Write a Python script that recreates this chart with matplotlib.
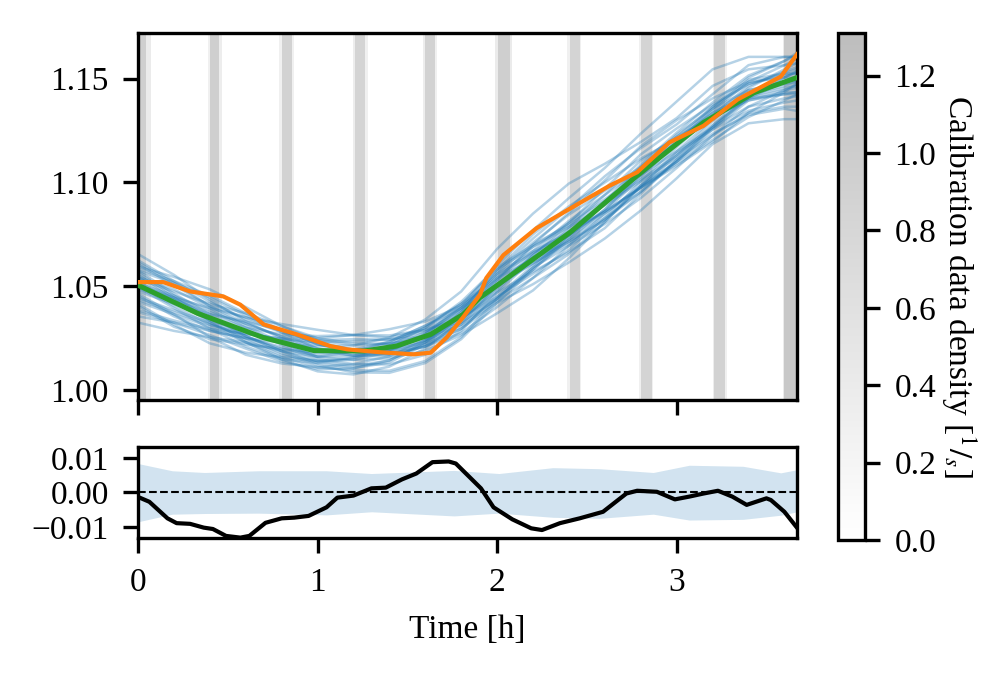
import numpy as np
import matplotlib
matplotlib.use("Agg")
import matplotlib.pyplot as plt
from matplotlib.colors import LinearSegmentedColormap, Normalize

plt.rcParams["font.family"] = ["Liberation Serif", "DejaVu Serif"]
plt.rcParams["mathtext.fontset"] = "stix"
plt.rcParams["font.size"] = 8
plt.rcParams["axes.linewidth"] = 0.8

# calibration data density (1/s) on time bins [h]
cal_edges = [0, 0.005, 0.045, 0.075, 0.39, 0.40, 0.45, 0.465, 0.785, 0.80,
             0.855, 0.87, 1.195, 1.21, 1.265, 1.28, 1.59, 1.60, 1.655, 1.665,
             1.99, 2.005, 2.07, 2.085, 2.39, 2.405, 2.46, 2.47, 2.79, 2.80,
             2.86, 2.87, 3.20, 3.21, 3.27, 3.28, 3.59, 3.60, 3.67]
cal_density = [0.5, 0.95, 0.4, 0, 0.3, 0.95, 0.35, 0, 0.3, 0.9,
               0.3, 0, 0.35, 0.85, 0.3, 0, 0.35, 0.9, 0.3, 0,
               0.4, 0.95, 0.4, 0, 0.3, 0.85, 0.3, 0, 0.3, 0.85,
               0.3, 0, 0.35, 0.9, 0.3, 0, 0.4, 1.1]

# ensemble members: mean curve + per-member offsets (x1e-3)
t_knots = [0, 0.2, 0.4, 0.6, 0.8, 1.0, 1.2, 1.4, 1.6, 1.8, 2.0, 2.2, 2.4,
           2.6, 2.8, 3.0, 3.2, 3.4, 3.6, 3.67]
mean_knots = [1.0505, 1.0425, 1.0345, 1.028, 1.0228, 1.019, 1.0185, 1.0203,
              1.026, 1.0355, 1.050, 1.063, 1.0755, 1.089, 1.1035, 1.117,
              1.1305, 1.1425, 1.1485, 1.1505]
member_offsets = [
    [12, 10, 8, 6, 5, 6, 8, 9, 7, 5, 3, 4, 6, 5, 3, 2, 4, 6, 8, 9],
    [-8, -6, -4, -5, -7, -8, -6, -4, -5, -8, -10, -9, -6, -4, -5, -7, -8, -6, -4, -3],
    [3, 5, 7, 9, 8, 6, 4, 2, 0, -2, -1, 2, 5, 8, 10, 9, 7, 5, 3, 2],
    [-15, -10, -6, -3, -2, -4, -6, -8, -9, -7, -3, 0, 2, 1, -2, -4, -3, 0, 2, 3],
    [6, 3, 0, -2, -4, -6, -8, -7, -4, 0, 4, 6, 5, 3, 0, -2, -4, -6, -8, -9],
    [0, -2, -3, -1, 2, 4, 5, 4, 2, 1, 3, 7, 10, 12, 14, 13, 10, 6, 2, 0],
    [-4, -6, -9, -11, -10, -8, -9, -11, -12, -10, -6, -4, -6, -9, -11, -10, -8, -9, -12, -14],
    [9, 12, 14, 12, 8, 5, 3, 5, 8, 12, 18, 22, 24, 20, 16, 14, 16, 12, 8, 7],
    [-10, -12, -10, -6, -3, -1, 0, -2, -4, -6, -8, -12, -14, -16, -17, -15, -12, -14, -18, -20],
    [2, 0, -1, 0, 1, 0, -2, -3, -2, 0, 2, 1, -1, -2, 0, 2, 3, 2, 0, -1],
    [-2, 1, 3, 4, 3, 1, -1, -3, -5, -6, -5, -3, -1, 1, 3, 5, 6, 5, 4, 4],
    [15, 13, 9, 5, 2, 0, 1, 3, 5, 6, 8, 6, 3, 0, -3, -5, -4, -2, 0, 1],
    [-6, -4, -2, -3, -5, -7, -10, -12, -13, -11, -8, -5, -3, -4, -6, -8, -10, -11, -9, -8],
    [4, 6, 5, 3, 0, -3, -4, -2, 1, 4, 6, 8, 9, 7, 4, 2, 0, -1, -3, -4],
    [-12, -9, -5, -1, 2, 3, 1, -1, 0, 3, 6, 4, 0, -3, -6, -7, -5, -3, -5, -7],
    [7, 4, 2, 2, 4, 7, 8, 6, 3, -1, -5, -7, -8, -6, -3, 0, 2, 4, 5, 5],
    [-1, -3, -5, -7, -8, -6, -3, 0, 2, 3, 1, -2, -4, -6, -8, -7, -4, -1, 2, 3],
    [10, 8, 6, 7, 9, 10, 8, 5, 3, 4, 7, 10, 12, 14, 13, 11, 12, 14, 12, 10],
    [-9, -11, -12, -10, -7, -5, -4, -5, -7, -9, -13, -15, -12, -8, -5, -3, -5, -8, -10, -11],
    [1, 3, 4, 2, -1, -3, -2, 1, 4, 7, 9, 7, 4, 2, 1, 3, 6, 8, 10, 12],
    [-5, -7, -6, -3, 0, 2, 3, 2, -1, -4, -6, -5, -2, 1, 4, 6, 5, 2, -1, -2],
    [5, 2, -1, -4, -6, -5, -3, -1, -2, -4, -2, 2, 3, 5, 7, 5, 1, -3, -6, -7],
    [-18, -14, -9, -5, -4, -5, -7, -6, -3, -1, -3, -6, -9, -11, -9, -6, -3, -2, -4, -5],
    [8, 10, 11, 9, 6, 3, 0, -1, 1, 5, 10, 14, 17, 18, 20, 22, 24, 18, 12, 10],
    [-3, -1, 2, 5, 6, 4, 1, -1, -3, -5, -7, -9, -10, -8, -5, -2, 0, 1, 0, -1],
    [0, 2, 1, -2, -4, -3, 0, 3, 5, 4, 1, -1, -3, -2, 1, 4, 3, 0, -2, -2],
    [-7, -5, -3, -2, -3, -2, 0, 2, 4, 6, 4, 0, -4, -7, -8, -6, -7, -10, -13, -16],
    [11, 9, 6, 4, 3, 5, 6, 4, 0, -3, -6, -4, -1, 2, 5, 7, 8, 9, 10, 11],
    [-13, -10, -8, -8, -9, -9, -8, -6, -3, 2, 8, 12, 13, 11, 8, 4, 1, -2, -6, -8],
    [4, 1, -2, -5, -8, -10, -11, -9, -6, -2, 0, -2, -5, -7, -6, -4, -1, 3, 6, 7],
    [-1, 2, 5, 7, 6, 3, 0, -3, -5, -3, 0, 3, 1, -3, -6, -9, -11, -9, -5, -3],
    [7, 9, 10, 8, 5, 1, -2, -4, -2, 2, 5, 3, -1, -3, -1, 2, 5, 7, 4, 2],
]

# ensemble mean (green)
t_mean = [0, 0.33, 0.70, 0.98, 1.26, 1.44, 1.63, 1.81, 1.905, 2.03, 2.41,
          2.78, 3.15, 3.43, 3.67]
y_mean = [1.0505, 1.037, 1.0252, 1.019, 1.0188, 1.0212, 1.0268, 1.0364,
          1.0445, 1.0523, 1.0762, 1.1033, 1.1289, 1.1432, 1.1505]

# measurement (orange)
t_meas = [0, 0.14, 0.29, 0.475, 0.57, 0.70, 0.885, 1.07, 1.165, 1.35, 1.535,
          1.63, 1.72, 1.81, 1.905, 1.94, 2.035, 2.22, 2.41, 2.63, 2.78, 2.96,
          3.15, 3.34, 3.48, 3.58, 3.67]
y_meas = [1.052, 1.052, 1.0475, 1.0451, 1.0411, 1.0316, 1.0268, 1.0212,
          1.0196, 1.0182, 1.0172, 1.018, 1.0254, 1.035, 1.046, 1.054, 1.065,
          1.078, 1.0876, 1.0986, 1.1049, 1.1193, 1.1273, 1.140, 1.1464,
          1.151, 1.1617]

# residual and band
t_res = [0, 0.063, 0.164, 0.215, 0.29, 0.366, 0.417, 0.49, 0.57, 0.62, 0.71,
         0.80, 0.87, 0.95, 1.05, 1.11, 1.20, 1.30, 1.38, 1.47, 1.55, 1.64,
         1.73, 1.77, 1.91, 1.98, 2.085, 2.19, 2.25, 2.35, 2.46, 2.59, 2.72,
         2.78, 2.89, 2.99, 3.07, 3.15, 3.23, 3.31, 3.39, 3.50, 3.525, 3.60, 3.67]
residual = [-0.0013, -0.0027, -0.0075, -0.0089, -0.0091, -0.0102, -0.0106,
            -0.0126, -0.0131, -0.0126, -0.0088, -0.0075, -0.0073, -0.0068,
            -0.0043, -0.0015, -0.0009, 0.0012, 0.0014, 0.0038, 0.0055, 0.0088,
            0.0090, 0.0084, 0.0012, -0.0043, -0.0078, -0.0104, -0.0109,
            -0.0089, -0.0075, -0.0056, -0.0003, 0.0005, 0.0002, -0.0020,
            -0.0012, -0.0003, 0.0005, -0.0012, -0.0036, -0.0017, -0.0022,
            -0.0056, -0.0102]
t_band = [0, 0.19, 0.37, 0.67, 1.05, 1.30, 1.76, 2.01, 2.31, 2.57, 2.87,
          3.07, 3.37, 3.58, 3.67]
band_hi = [0.0084, 0.0063, 0.0058, 0.0063, 0.0063, 0.0055, 0.0064, 0.0055,
           0.0072, 0.0069, 0.0058, 0.0079, 0.0076, 0.0057, 0.0066]
band_lo = [-0.0085, -0.0063, -0.0061, -0.0060, -0.0065, -0.0056, -0.0068,
           -0.0060, -0.0072, -0.0075, -0.0063, -0.0080, -0.0078, -0.0066,
           -0.0056]

fig = plt.figure(figsize=(1006 / 300, 679 / 300), dpi=300)
ax = fig.add_axes([0.1372, 0.4109, 0.655, 0.5405])
axr = fig.add_axes([0.1372, 0.2077, 0.655, 0.134], sharex=ax)
cax = fig.add_axes([0.833, 0.2047, 0.027, 0.7467])

ylim = (0.9952, 1.172)
cmap = LinearSegmentedColormap.from_list("cal", ["white", "#bdbdbd"])
norm = Normalize(0, 1.31)
mesh = ax.pcolormesh(cal_edges, ylim, np.array([cal_density]), cmap=cmap,
                     norm=norm, zorder=0)

mean_knots = np.array(mean_knots)
for off in member_offsets:
    ax.plot(t_knots, mean_knots + 1e-3 * np.array(off), color="tab:blue",
            alpha=0.33, lw=0.6, zorder=1)
ax.plot(t_mean, y_mean, color="tab:green", lw=1.2, zorder=3)
ax.plot(t_meas, y_meas, color="tab:orange", lw=1.0, zorder=4)
ax.set_ylim(*ylim)
ax.set_xlim(0, 3.67)
ax.set_yticks([1.00, 1.05, 1.10, 1.15])
ax.set_xticks([0, 1, 2, 3])
ax.tick_params(labelbottom=False)

axr.fill_between(t_band, band_lo, band_hi, color="tab:blue", alpha=0.2, lw=0)
axr.axhline(0, color="black", ls="--", lw=0.5)
axr.plot(t_res, residual, color="black", lw=1.0)
axr.set_ylim(-0.0132, 0.0132)
axr.set_yticks([-0.01, 0, 0.01])
axr.set_xticks([0, 1, 2, 3])
axr.set_xlabel("Time [h]")

cb = fig.colorbar(mesh, cax=cax)
cb.set_label(r"Calibration data density [$^1/_s$]", rotation=270, labelpad=10)
cb.set_ticks([0, 0.2, 0.4, 0.6, 0.8, 1.0, 1.2])

fig.savefig("out.png", dpi=300)
